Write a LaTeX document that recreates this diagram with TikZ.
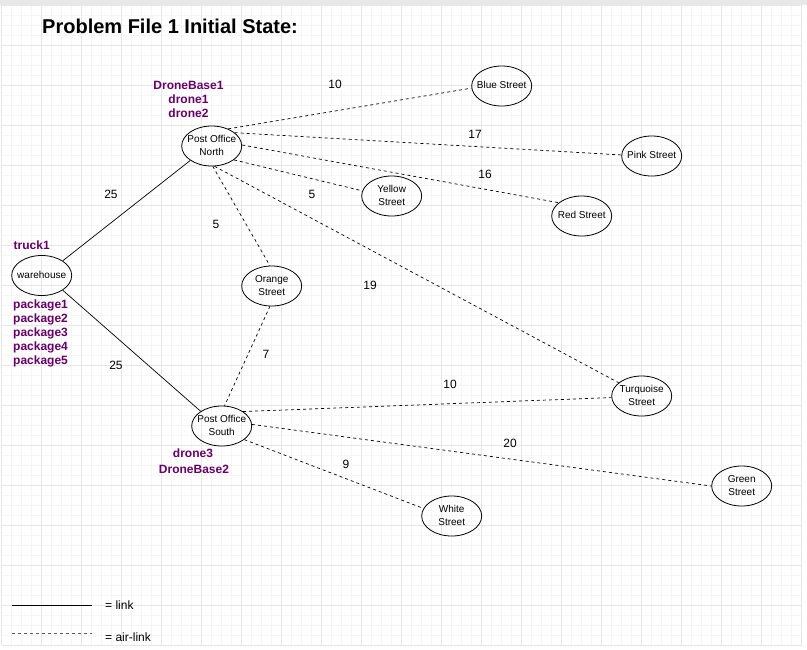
\documentclass[tikz,border=0pt]{standalone}
\usepackage{fontspec}
\setmainfont{Liberation Sans}
\usetikzlibrary{shapes.geometric}
\definecolor{lbl}{HTML}{660066}
\definecolor{gridminor}{HTML}{F5F5F5}
\definecolor{gridmajor}{HTML}{E6E6E6}
\definecolor{band}{HTML}{E8E8E8}
\newcommand\ptext[1]{\makebox[0pt]{\raisebox{-1.5pt}{\begin{tabular}{@{}c@{}}#1\end{tabular}}}}
\tikzset{
  place/.style={ellipse,draw,line width=0.8pt,minimum width=60pt,minimum height=40pt,inner sep=0pt,font=\fontsize{10}{13}\selectfont},
  link/.style={line width=0.7pt},
  airlink/.style={line width=0.7pt,dash pattern=on 3pt off 3pt},
  num/.style={font=\fontsize{12}{14}\selectfont,inner sep=0pt},
  obj/.style={font=\bfseries\fontsize{12}{14}\selectfont,text=lbl,inner sep=0pt,align=center},
  legend/.style={font=\fontsize{12}{14}\selectfont,inner sep=0pt,anchor=west}
}
\begin{document}
\begin{tikzpicture}[x=1pt,y=-1pt]
\useasboundingbox (0,0) rectangle (807,649);
\fill[white] (0,0) rectangle (807,649);
\fill[band] (0,0) rectangle (807,5);
% grid
\foreach \i in {0,...,80} {\draw[gridminor,line width=0.5pt] ({1.7+10*\i},5) -- ({1.7+10*\i},645);}
\foreach \j in {0,...,64} {\draw[gridminor,line width=0.5pt] (1.7,{5+10*\j}) -- (801.7,{5+10*\j});}
\foreach \i in {0,...,20} {\draw[gridmajor,line width=0.6pt] ({1.7+40*\i},5) -- ({1.7+40*\i},645);}
\foreach \j in {0,...,16} {\draw[gridmajor,line width=0.6pt] (1.7,{5+40*\j}) -- (801.7,{5+40*\j});}

\node[anchor=west,inner sep=0pt,font=\bfseries\fontsize{20}{24}\selectfont] (title) at (42,26) {Problem File 1 Initial State:};

% places
\node[place] (pon) at (211.7,146) {\ptext{Post Office\\North}};
\node[place] (wh) at (41.7,275.5) {\ptext{warehouse}};
\node[place] (orange) at (271.7,286) {\ptext{Orange\\Street}};
\node[place] (pos) at (221.7,426) {\ptext{Post Office\\South}};
\node[place] (blue) at (501.7,86) {\ptext{Blue Street}};
\node[place] (pink) at (651.7,156) {\ptext{Pink Street}};
\node[place] (yellow) at (391.7,196) {\ptext{Yellow\\Street}};
\node[place] (red) at (581.7,216) {\ptext{Red Street}};
\node[place] (turq) at (641.7,396) {\ptext{Turquoise\\Street}};
\node[place] (green) at (741.7,486) {\ptext{Green\\Street}};
\node[place] (white) at (451.7,516) {\ptext{White\\Street}};

% links
\draw[link] (wh.35) -- (pon.214);
\draw[link] (wh.325) -- (pos.145);
% air links
\draw[airlink] (pon.46) -- (blue.184);
\draw[airlink] (pon.30) -- (pink.178);
\draw[airlink] (pon.2) -- (red.150);
\draw[airlink] (pon.-32) -- (yellow.170);
\draw[airlink] (pon.-87) -- (orange.95);
\draw[airlink] (pon.-82) -- (turq.150);
\draw[airlink] (orange.-95) -- (pos.82);
\draw[airlink] (pos.34) -- (turq.183);
\draw[airlink] (pos.3) -- (green.180);
\draw[airlink] (pos.-31) -- (white.165);

% distances
\node[num] (d1) at (335,84) {10};
\node[num] (d2) at (475,134) {17};
\node[num] (d3) at (485,174) {16};
\node[num] (d4) at (312,194) {5};
\node[num] (d5) at (111,194) {25};
\node[num] (d6) at (216,224) {5};
\node[num] (d7) at (370,285) {19};
\node[num] (d8) at (266,354) {7};
\node[num] (d9) at (116,365) {25};
\node[num] (d10) at (450,384) {10};
\node[num] (d11) at (510,443) {20};
\node[num] (d12) at (346,464) {9};

% objects
\node[obj] (db1) at (188.5,85) {DroneBase1};
\node[obj] (dr1) at (188.5,99) {drone1};
\node[obj] (dr2) at (188.5,113) {drone2};
\node[obj,anchor=west] (tr1) at (13.5,245.5) {truck1};
\node[obj,anchor=west] (p1) at (13,305) {package1};
\node[obj,anchor=west] (p2) at (13,319) {package2};
\node[obj,anchor=west] (p3) at (13,333) {package3};
\node[obj,anchor=west] (p4) at (13,347) {package4};
\node[obj,anchor=west] (p5) at (13,361) {package5};
\node[obj] (dr3) at (193,453.5) {drone3};
\node[obj] (db2) at (194,469) {DroneBase2};

% legend
\coordinate (l1a) at (11.7,605);
\coordinate (l1b) at (91.7,605);
\coordinate (l2a) at (11.7,633.5);
\coordinate (l2b) at (91.7,633.5);
\draw[link] (l1a) -- (l1b);
\draw[airlink,black!65] (l2a) -- (l2b);
\node[legend] (lg1) at (105,605) {= link};
\node[legend] (lg2) at (105,637.5) {= air-link};
\end{tikzpicture}
\end{document}
